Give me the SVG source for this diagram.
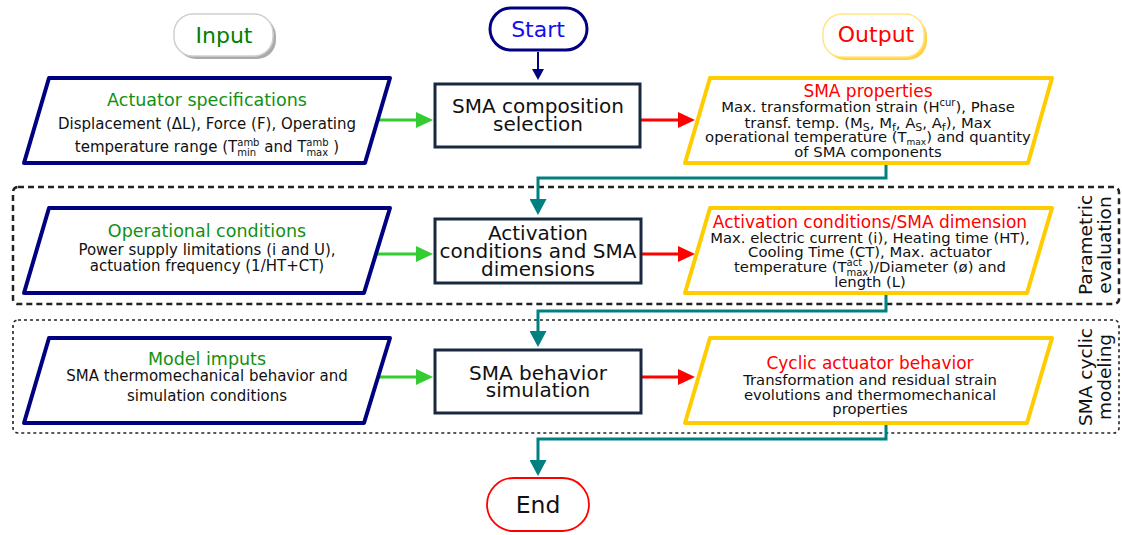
<svg xmlns="http://www.w3.org/2000/svg" width="1122" height="535" viewBox="0 0 1122 535">
<style>
text{font-family:"DejaVu Sans",Verdana,sans-serif}
.t{font-size:17.5px;fill:#139013;text-anchor:middle}
.tr{font-size:17px;fill:#ff0000;text-anchor:middle}
.b{font-size:15px;fill:#111;text-anchor:middle}
.br{font-size:14.8px;fill:#111;text-anchor:middle}
.bx{font-size:20px;fill:#111;text-anchor:middle}
.v{font-size:18.5px;fill:#111;text-anchor:middle}
.s{font-size:10px}
.pin{fill:#fff;stroke:#000080;stroke-width:4;stroke-linejoin:round}
.pout{fill:#fff;stroke:#ffcc00;stroke-width:4;stroke-linejoin:round}
.proc{fill:#fff;stroke:#17283f;stroke-width:3}
.green{stroke:#33cc33;stroke-width:3;fill:none}
.red{stroke:#ff0000;stroke-width:3;fill:none}
.teal{stroke:#008080;stroke-width:3;fill:none}
.navy{stroke:#000080;stroke-width:2;fill:none}
</style>
<defs>
<marker id="ag" markerUnits="userSpaceOnUse" markerWidth="17" markerHeight="16" refX="1" refY="8" orient="auto"><path d="M0,0 L17,8 L0,16 z" fill="#33cc33"/></marker>
<marker id="ar" markerUnits="userSpaceOnUse" markerWidth="17" markerHeight="16" refX="1" refY="8" orient="auto"><path d="M0,0 L17,8 L0,16 z" fill="#ff0000"/></marker>
<marker id="at" markerUnits="userSpaceOnUse" markerWidth="16" markerHeight="17" refX="1" refY="8.5" orient="auto"><path d="M0,0 L16,8.5 L0,17 z" fill="#008080"/></marker>
<marker id="an" markerUnits="userSpaceOnUse" markerWidth="11" markerHeight="12" refX="1" refY="6" orient="auto"><path d="M0,0 L11,6 L0,12 z" fill="#000080"/></marker>
</defs>

<g id="group-parametric">
<rect x="13" y="187" width="1106" height="117" rx="5" fill="none" stroke="#222" stroke-width="2.5" stroke-dasharray="6 4"/>
<text class="v" transform="translate(1092,245) rotate(-90)">Parametric</text>
<text class="v" transform="translate(1111,245) rotate(-90)">evaluation</text>
</g>
<g id="group-cyclic">
<rect x="13" y="320" width="1106" height="113" rx="5" fill="none" stroke="#222" stroke-width="1.6" stroke-dasharray="3 3"/>
<text class="v" transform="translate(1092,377) rotate(-90)">SMA cyclic</text>
<text class="v" transform="translate(1111,377) rotate(-90)">modeling</text>
</g>

<g id="connectors">
<path class="navy" d="M538,52 V70" marker-end="url(#an)"/>
<path class="green" d="M376,120 H417" marker-end="url(#ag)"/>
<path class="red" d="M641,120 H679" marker-end="url(#ar)"/>
<path class="teal" d="M886,164 V178 H538 V200" marker-end="url(#at)"/>
<path class="green" d="M374,254 H417" marker-end="url(#ag)"/>
<path class="red" d="M641,254 H679" marker-end="url(#ar)"/>
<path class="teal" d="M886,294 V311 H538 V332" marker-end="url(#at)"/>
<path class="green" d="M374,377 H417" marker-end="url(#ag)"/>
<path class="red" d="M641,377 H679" marker-end="url(#ar)"/>
<path class="teal" d="M886,424 V439 H538 V461" marker-end="url(#at)"/>
</g>

<g id="input-label">
<rect x="177" y="17" width="99" height="42" rx="19" fill="#aaa"/>
<rect x="174" y="14" width="99" height="42" rx="19" fill="#fff" stroke="#cfcfcf" stroke-width="1.5"/>
<text x="224" y="43" font-size="22" fill="#008000" text-anchor="middle">Input</text>
</g>
<g id="output-label">
<rect x="826" y="17" width="101" height="43" rx="19" fill="#ffd24d"/>
<rect x="823" y="14" width="101" height="43" rx="19" fill="#fff" stroke="#ffe680" stroke-width="1.5"/>
<text x="876" y="42" font-size="22" fill="#ff0000" text-anchor="middle">Output</text>
</g>
<g id="start">
<rect x="490" y="8" width="97" height="42" rx="21" fill="#fff" stroke="#000080" stroke-width="3"/>
<text x="538" y="37" font-size="22" fill="#1010ee" text-anchor="middle">Start</text>
</g>
<g id="end">
<rect x="487" y="478" width="102" height="53" rx="26.5" fill="#fff" stroke="#ff0000" stroke-width="1.8"/>
<text x="538" y="513" font-size="23.5" fill="#111" text-anchor="middle">End</text>
</g>

<g id="actuator-specs">
<polygon class="pin" points="49,78 390,78 365,163 24,163"/>
<text class="t" x="207" y="106">Actuator specifications</text>
<text class="b" x="207" y="129">Displacement (ΔL), Force (F), Operating</text>
<text class="b" x="207" y="152">temperature range (T<tspan class="s" dy="-6">amb</tspan><tspan class="s" dx="-22.2" dy="9.5">min</tspan><tspan dx="3.3" dy="-3.5"> and T</tspan><tspan class="s" dy="-6">amb</tspan><tspan class="s" dx="-22.2" dy="9.5">max</tspan><tspan dx="0.4" dy="-3.5"> )</tspan></text>
</g>
<g id="composition-selection">
<rect class="proc" x="435" y="84" width="205" height="63"/>
<text class="bx" x="538" y="113">SMA composition</text>
<text class="bx" x="538" y="131">selection</text>
</g>
<g id="sma-properties">
<polygon class="pout" points="710,78 1052,78 1028,163 685,163"/>
<text class="tr" x="868" y="97">SMA properties</text>
<text class="br" x="868" y="112">Max. transformation strain (H<tspan class="s" dy="-6">cur</tspan><tspan dy="6">), Phase</tspan></text>
<text class="br" x="868" y="128">transf. temp. (M<tspan font-size="11" dy="3">S</tspan><tspan dy="-3">, M</tspan><tspan font-size="11" dy="3">f</tspan><tspan dy="-3">, A</tspan><tspan font-size="11" dy="3">S</tspan><tspan dy="-3">, A</tspan><tspan font-size="11" dy="3">f</tspan><tspan dy="-3">), Max</tspan></text>
<text class="br" x="868" y="142">operational temperature (T<tspan font-size="9" dy="3">max</tspan><tspan dy="-3">) and quantity</tspan></text>
<text class="br" x="868" y="157">of SMA components</text>
</g>

<g id="operational-conditions">
<polygon class="pin" points="49,208 390,208 364,293 24,293"/>
<text class="t" x="207" y="237">Operational conditions</text>
<text class="b" x="207" y="255">Power supply limitations (i and U),</text>
<text class="b" x="207" y="271">actuation frequency (1/HT+CT)</text>
</g>
<g id="activation-box">
<rect class="proc" x="435" y="219" width="206" height="64"/>
<text class="bx" x="538" y="240">Activation</text>
<text class="bx" x="538" y="258">conditions and SMA</text>
<text class="bx" x="538" y="276">dimensions</text>
</g>
<g id="activation-output">
<polygon class="pout" points="710,208 1052,208 1027,293 685,293"/>
<text class="tr" x="870" y="228">Activation conditions/SMA dimension</text>
<text class="br" x="870" y="243">Max. electric current (i), Heating time (HT),</text>
<text class="br" x="870" y="257">Cooling Time (CT), Max. actuator</text>
<text class="br" x="870" y="272">temperature (T<tspan class="s" dy="-6">act</tspan><tspan class="s" dx="-15.6" dy="9.5">max</tspan><tspan dy="-3.5">)/Diameter (ø) and</tspan></text>
<text class="br" x="870" y="287">length (L)</text>
</g>

<g id="model-inputs">
<polygon class="pin" points="49,338 390,338 364,423 24,423"/>
<text class="t" x="207" y="365">Model imputs</text>
<text class="b" x="207" y="381">SMA thermomechanical behavior and</text>
<text class="b" x="207" y="401">simulation conditions</text>
</g>
<g id="behavior-simulation">
<rect class="proc" x="435" y="350" width="206" height="63"/>
<text class="bx" x="538" y="380">SMA behavior</text>
<text class="bx" x="538" y="397">simulation</text>
</g>
<g id="cyclic-output">
<polygon class="pout" points="710,338 1052,338 1027,423 685,423"/>
<text class="tr" x="870" y="369" font-size="17.5">Cyclic actuator behavior</text>
<text class="br" x="870" y="385">Transformation and residual strain</text>
<text class="br" x="870" y="400">evolutions and thermomechanical</text>
<text class="br" x="870" y="414">properties</text>
</g>
</svg>
